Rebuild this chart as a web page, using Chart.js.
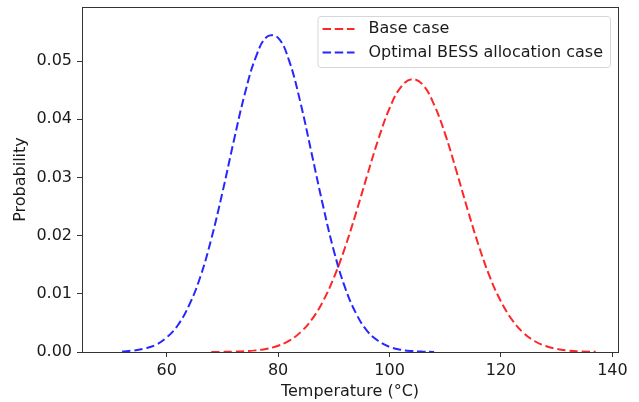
<!DOCTYPE html>
<html>
<head>
<meta charset="utf-8">
<script src="https://cdn.jsdelivr.net/npm/chart.js@4.4.0/dist/chart.umd.min.js"></script>
<style>
html, body { margin: 0; padding: 0; background: #fff; }
</style>
</head>
<body>
<canvas id="chart" width="639" height="402"></canvas>
<script>
// Data
const baseTemps = [68, 70, 72, 74, 76, 78, 80, 82, 84, 86, 88, 90, 92, 94, 96, 98, 100, 102, 104,
    106, 108, 110, 112, 114, 116, 118, 120, 122, 124, 126, 128, 130, 132, 134, 136, 137];
const baseProb = [0.00001, 0.00002, 0.00006, 0.00013, 0.00028, 0.00056, 0.00107, 0.00195, 0.00337,
    0.00553, 0.00862, 0.01276, 0.01795, 0.02396, 0.0304, 0.0366, 0.0419, 0.0455, 0.0469,
    0.0459, 0.0425, 0.0374, 0.0311, 0.0245, 0.0183, 0.0129, 0.00867, 0.00551, 0.00331,
    0.00189, 0.00102, 0.00052, 0.00025, 0.00012, 0.00005, 0.00003];

const optTemps = [52, 54, 56, 58, 60, 62, 64, 66, 68, 70, 72, 74, 76, 78, 80,
    82, 84, 86, 88, 90, 92, 94, 96, 98, 100, 102, 104, 106, 108];
const optProb = [0.0001, 0.00025, 0.0006, 0.0012, 0.0025, 0.0046, 0.0080, 0.0128, 0.0194, 0.0274,
    0.0361, 0.0443, 0.0507, 0.0542, 0.0540, 0.0500, 0.0429, 0.0342, 0.0254, 0.0174,
    0.0111, 0.0066, 0.0036, 0.0019, 0.00088, 0.00039, 0.00016, 0.00006, 0.00002];

const xTicks = [60, 80, 100, 120, 140];
const yTicks = [0, 0.01, 0.02, 0.03, 0.04, 0.05];

const seriesNames = ['Base case', 'Optimal BESS allocation case'];
const seriesColors = ['rgba(255, 0, 0, 0.85)', 'rgba(0, 0, 255, 0.85)'];

const FONT_FAMILY = '"DejaVu Sans", sans-serif';
const FONT_SIZE = 16;
const TEXT = '#1a1a1a';
const AXIS = '#333333';
const DASH = [8.5, 3.7];

Chart.defaults.font.family = FONT_FAMILY;
Chart.defaults.font.size = FONT_SIZE;
Chart.defaults.color = TEXT;

// zip temps & probabilities into {x, y} points for the linear x axis
function toPoints(xs, ys) {
    return xs.map((x, i) => ({ x: x, y: ys[i] }));
}

// matplotlib style box round the plot area (all four spines)
const frame = {
    id: 'frame',
    afterDatasetsDraw(chart) {
        const { ctx, chartArea: a } = chart;
        ctx.save();
        ctx.strokeStyle = AXIS;
        ctx.lineWidth = 1;
        ctx.strokeRect(Math.round(a.left) + 0.5, Math.round(a.top) + 0.5,
            Math.round(a.right - a.left), Math.round(a.bottom - a.top));
        ctx.restore();
    }
};

// legend in the upper right corner, inside the axes
const legendBox = {
    id: 'legendBox',
    afterDraw(chart) {
        const { ctx, chartArea: a } = chart;
        const sets = chart.data.datasets;
        ctx.save();
        ctx.font = FONT_SIZE + 'px ' + FONT_FAMILY;
        const textW = Math.max(...sets.map(d => ctx.measureText(d.label).width));
        const boxW = 5 + 32 + 13 + textW + 8;
        const boxH = 51;
        const x = a.right - 8 - boxW;
        const y = a.top + 9;

        ctx.beginPath();
        ctx.roundRect(x + 0.5, y + 0.5, boxW, boxH, 3);
        ctx.fillStyle = 'rgba(255, 255, 255, 0.8)';
        ctx.fill();
        ctx.strokeStyle = '#d6d6d6';
        ctx.lineWidth = 1;
        ctx.stroke();

        sets.forEach((d, i) => {
            const rowY = y + 13 + i * 23.5;
            ctx.beginPath();
            ctx.setLineDash(DASH);
            ctx.strokeStyle = d.borderColor;
            ctx.lineWidth = 2;
            ctx.moveTo(x + 5, rowY);
            ctx.lineTo(x + 37, rowY);
            ctx.stroke();
            ctx.setLineDash([]);
            ctx.fillStyle = TEXT;
            ctx.textBaseline = 'middle';
            ctx.textAlign = 'left';
            ctx.fillText(d.label, x + 51, rowY);
        });
        ctx.restore();
    }
};

const ctx = document.getElementById('chart').getContext('2d');
const chart = new Chart(ctx, {
    type: 'line',
    data: {
        datasets: [{
            label: seriesNames[0],
            data: toPoints(baseTemps, baseProb),
            borderColor: seriesColors[0],
            borderWidth: 2,
            borderDash: DASH,
            pointRadius: 0,
            tension: 0.4,
            fill: false
        }, {
            label: seriesNames[1],
            data: toPoints(optTemps, optProb),
            borderColor: seriesColors[1],
            borderWidth: 2,
            borderDash: DASH,
            pointRadius: 0,
            tension: 0.4,
            fill: false
        }]
    },
    options: {
        responsive: false,
        animation: false,
        layout: { padding: { top: 7, right: 21, left: 0, bottom: 0 } },
        plugins: {
            legend: { display: false },
            tooltip: { enabled: false }
        },
        scales: {
            x: {
                type: 'linear',
                min: 44.8,
                max: 141,
                afterBuildTicks: s => { s.ticks = xTicks.map(v => ({ value: v })); },
                afterFit: s => { s.height = 50; s.paddingLeft = 0; s.paddingRight = 0; },
                grid: { display: true, drawOnChartArea: false, drawTicks: true, tickLength: 5, color: AXIS },
                border: { display: false },
                ticks: { padding: 4, maxRotation: 0, callback: v => String(v) },
                title: { display: true, text: 'Temperature (°C)', padding: { top: 0, bottom: 1 } }
            },
            y: {
                type: 'linear',
                min: 0,
                max: 0.0593,
                afterBuildTicks: s => { s.ticks = yTicks.map(v => ({ value: v })); },
                afterFit: s => { s.width = 82; s.paddingTop = 0; s.paddingBottom = 0; },
                grid: { display: true, drawOnChartArea: false, drawTicks: true, tickLength: 5, color: AXIS },
                border: { display: false },
                ticks: { padding: 5, callback: v => v.toFixed(2) },
                title: { display: true, text: 'Probability', padding: { top: 11, bottom: 0 } }
            }
        }
    },
    plugins: [frame, legendBox]
});
</script>
</body>
</html>
